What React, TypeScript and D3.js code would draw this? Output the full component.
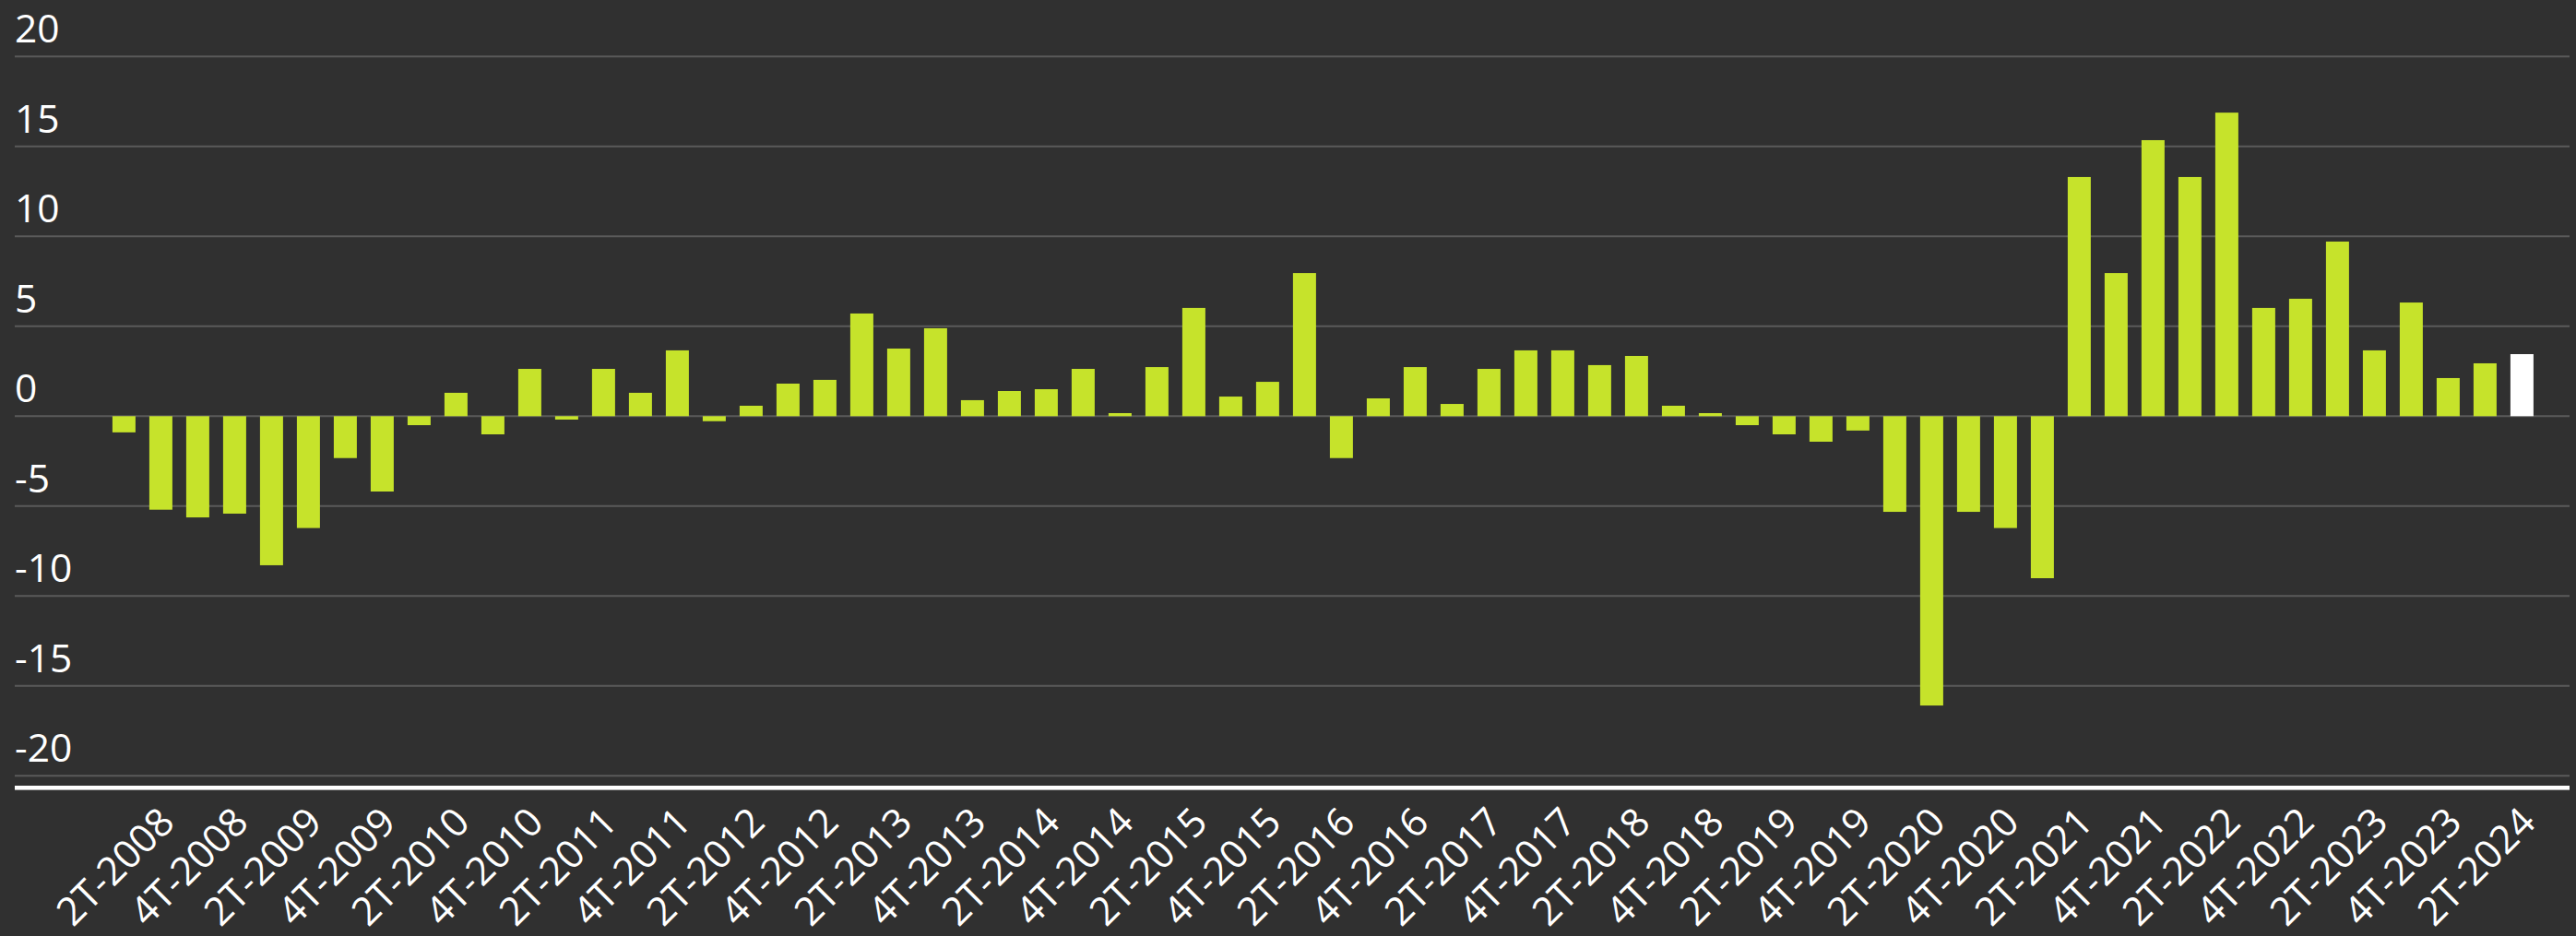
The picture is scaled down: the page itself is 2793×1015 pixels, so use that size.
import React, { useEffect } from "react";
import * as d3 from "d3";

const quarters: string[] = [
  "1T-2008", "2T-2008", "3T-2008", "4T-2008",
  "1T-2009", "2T-2009", "3T-2009", "4T-2009",
  "1T-2010", "2T-2010", "3T-2010", "4T-2010",
  "1T-2011", "2T-2011", "3T-2011", "4T-2011",
  "1T-2012", "2T-2012", "3T-2012", "4T-2012",
  "1T-2013", "2T-2013", "3T-2013", "4T-2013",
  "1T-2014", "2T-2014", "3T-2014", "4T-2014",
  "1T-2015", "2T-2015", "3T-2015", "4T-2015",
  "1T-2016", "2T-2016", "3T-2016", "4T-2016",
  "1T-2017", "2T-2017", "3T-2017", "4T-2017",
  "1T-2018", "2T-2018", "3T-2018", "4T-2018",
  "1T-2019", "2T-2019", "3T-2019", "4T-2019",
  "1T-2020", "2T-2020", "3T-2020", "4T-2020",
  "1T-2021", "2T-2021", "3T-2021", "4T-2021",
  "1T-2022", "2T-2022", "3T-2022", "4T-2022",
  "1T-2023", "2T-2023", "3T-2023", "4T-2023",
  "1T-2024", "2T-2024",
];

const values: number[] = [
  -0.9, -5.2, -5.63, -5.42,
  -8.29, -6.22, -2.33, -4.19,
  -0.5, 1.3, -1.01, 2.63,
  -0.19, 2.63, 1.3, 3.66,
  -0.28, 0.58, 1.81, 2.02,
  5.71, 3.76, 4.89, 0.89,
  1.4, 1.5, 2.63, 0.17,
  2.73, 6.02, 1.09, 1.91,
  7.96, -2.33, 0.99, 2.73,
  0.68, 2.63, 3.66, 3.66,
  2.84, 3.35, 0.58, 0.17,
  -0.5, -1.01, -1.42, -0.8,
  -5.32, -16.09, -5.32, -6.22,
  -9.01, 13.3, 7.96, 15.35,
  13.3, 16.88, 6.02, 6.53,
  9.71, 3.66, 6.32, 2.12,
  2.94, 3.45,
];

const xTickLabels: string[] = quarters.filter((q) => q.startsWith("2T") || q.startsWith("4T"));
const yTicks: number[] = [-20, -15, -10, -5, 0, 5, 10, 15, 20];
const highlighted: string[] = ["2T-2024"];

const W = 2793;
const H = 1015;
const BG = "#303030";
const BAR = "#c6e32b";
const GRID = "#5a5a5a";
const FONT = "'Open Sans', 'Noto Sans', sans-serif";

export default function App() {
  useEffect(() => {
    document.body.style.margin = "0";
    document.body.style.background = BG;
  }, []);

  const x = d3
    .scaleBand<string>()
    .domain(quarters)
    .range([114.4, 2754.4])
    .paddingInner(0.375)
    .paddingOuter(0.1875);
  const y = d3.scaleLinear().domain([-20, 20]).range([841.3, 61.3]);
  const gridX0 = 16;
  const gridX1 = 2786;

  return (
    <svg width={W} height={H} style={{ display: "block" }} fontFamily={FONT}>
      <rect x={0} y={0} width={W} height={H} fill={BG} />
      {yTicks.map((t) => (
        <g key={t}>
          <line x1={gridX0} x2={gridX1} y1={y(t)} y2={y(t)} stroke={GRID} strokeWidth={2} />
          <text x={gridX0} y={y(t) - 15} fill="#ffffff" fontSize={42.5}>
            {t}
          </text>
        </g>
      ))}
      {quarters.map((q, i) => {
        const v = values[i];
        const y0 = y(0);
        const yv = y(v);
        return (
          <rect
            key={q}
            x={x(q)}
            y={Math.min(y0, yv)}
            width={x.bandwidth()}
            height={Math.abs(yv - y0)}
            fill={highlighted.includes(q) ? "#ffffff" : BAR}
          />
        );
      })}
      <rect x={gridX0} y={852} width={gridX1 - gridX0} height={4.6} fill="#ffffff" />
      {xTickLabels.map((lab) => {
        const cx = (x(lab) as number) + x.bandwidth() / 2 + 17;
        const cy = 894;
        return (
          <text
            key={lab}
            x={cx}
            y={cy}
            transform={`rotate(-45 ${cx} ${cy})`}
            textAnchor="end"
            fill="#ffffff"
            fontSize={42.5}
          >
            {lab}
          </text>
        );
      })}
    </svg>
  );
}
